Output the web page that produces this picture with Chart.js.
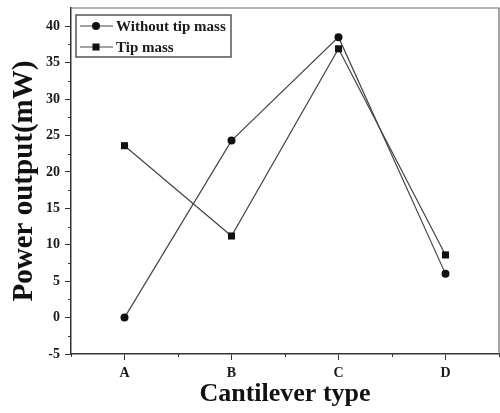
<!DOCTYPE html>
<html>
<head>
<meta charset="utf-8">
<script src="https://cdn.jsdelivr.net/npm/chart.js@4.4.1/dist/chart.umd.min.js"></script>
<style>
  html, body { margin: 0; padding: 0; background: #fff; }
  #wrap { width: 500px; height: 413px; }
</style>
</head>
<body>
<div id="wrap"><canvas id="powerChart"></canvas></div>
<script>
// Values.
const categories = ['A', 'B', 'C', 'D'];
const seriesNames = ['Without tip mass', 'Tip mass'];
const withoutTipMass = [0, 24.3, 38.5, 6.0];
const tipMass = [23.6, 11.2, 36.9, 8.6];
const yMin = -5, yMax = 42.5, yStep = 5;

const serif = '"Liberation Serif", "Times New Roman", serif';
const ink = '#1a1a1a';

// Frame, minor ticks and the boxed legend inside the plot.
const framePlugin = {
  id: 'frame',
  afterDraw(chart) {
    let ctx = chart.ctx, a = chart.chartArea;
    let xs = chart.scales.x, ys = chart.scales.y;
    ctx.save();

    // top and right border
    ctx.strokeStyle = '#6a6a6a';
    ctx.lineWidth = 1.2;
    ctx.beginPath();
    ctx.moveTo(a.left, a.top);
    ctx.lineTo(a.right, a.top);
    ctx.lineTo(a.right, a.bottom);
    ctx.stroke();

    // minor ticks
    ctx.strokeStyle = '#333';
    ctx.lineWidth = 1;
    ctx.beginPath();
    for (let v = yMin + yStep / 2; v < yMax; v += yStep) {
      let py = Math.round(ys.getPixelForValue(v)) + 0.5;
      ctx.moveTo(a.left - 3, py);
      ctx.lineTo(a.left, py);
    }
    for (let i = -0.5; i <= categories.length - 0.5; i += 1) {
      let px = Math.round(xs.getPixelForValue(i)) + 0.5;
      ctx.moveTo(px, a.bottom);
      ctx.lineTo(px, a.bottom + 3);
    }
    ctx.stroke();

    // legend
    let lx = a.left + 5, ly = a.top + 7, lw = 155, lh = 42;
    ctx.strokeStyle = '#555';
    ctx.lineWidth = 1.5;
    ctx.strokeRect(lx, ly, lw, lh);
    ctx.font = 'bold 15px ' + serif;
    ctx.textBaseline = 'middle';
    ctx.fillStyle = ink;
    chart.data.datasets.forEach(function (ds, k) {
      let cy = ly + 11 + k * 21;
      ctx.strokeStyle = ds.borderColor;
      ctx.lineWidth = ds.borderWidth;
      ctx.beginPath();
      ctx.moveTo(lx + 4, cy);
      ctx.lineTo(lx + 37, cy);
      ctx.stroke();
      ctx.fillStyle = ds.pointBackgroundColor;
      Chart.helpers.drawPoint(ctx, {
        pointStyle: ds.pointStyle, radius: ds.pointRadius, borderWidth: 0, rotation: 0
      }, lx + 20, cy);
      ctx.fillStyle = ink;
      ctx.fillText(ds.label, lx + 40, cy + 1);
    });
    ctx.restore();
  }
};

const lineStyle = {
  borderColor: '#444',
  borderWidth: 1.2,
  pointBackgroundColor: '#111',
  pointBorderColor: '#111',
  pointBorderWidth: 0,
  tension: 0
};

let ctx = document.getElementById('powerChart').getContext('2d');
let powerChart = new Chart(ctx, {
  type: 'line',
  data: {
    labels: categories,
    datasets: [
      Object.assign({ label: seriesNames[0], data: withoutTipMass, pointStyle: 'circle', pointRadius: 4 }, lineStyle),
      Object.assign({ label: seriesNames[1], data: tipMass, pointStyle: 'rect', pointRadius: 5 }, lineStyle)
    ]
  },
  options: {
    responsive: true,
    maintainAspectRatio: false,
    animation: false,
    layout: { autoPadding: false, padding: { top: 8, right: 1, left: 0, bottom: 0 } },
    plugins: {
      legend: { display: false },
      tooltip: { enabled: false }
    },
    scales: {
      x: {
        offset: true,
        grid: { drawOnChartArea: false, drawTicks: true, tickLength: 6, color: '#333', offset: false },
        border: { display: true, color: '#333', width: 1.5 },
        ticks: { color: ink, padding: 5, font: { family: serif, size: 14, weight: 'bold' } },
        title: {
          display: true,
          text: 'Cantilever type',
          color: '#111',
          font: { family: serif, size: 26, weight: 'bold', lineHeight: 1 },
          padding: { top: 0, bottom: 6 }
        },
        afterFit(scale) {
          scale.height = 59;
          scale.paddingLeft = 0;
          scale.paddingRight = 0;
        }
      },
      y: {
        min: yMin,
        max: yMax,
        grid: { drawOnChartArea: false, drawTicks: true, tickLength: 6, color: '#333' },
        border: { display: true, color: '#333', width: 1.5 },
        ticks: {
          stepSize: yStep,
          includeBounds: false,
          color: ink,
          padding: 5,
          font: { family: serif, size: 14, weight: 'bold' }
        },
        title: {
          display: true,
          text: 'Power output(mW)',
          color: '#111',
          font: { family: serif, size: 29, weight: 'bold', lineHeight: 1 },
          padding: { top: 10, bottom: 0 }
        },
        afterFit(scale) {
          scale.width = 71;
          scale.paddingTop = 0;
          scale.paddingBottom = 0;
        }
      }
    }
  },
  plugins: [framePlugin]
});
</script>
</body>
</html>
